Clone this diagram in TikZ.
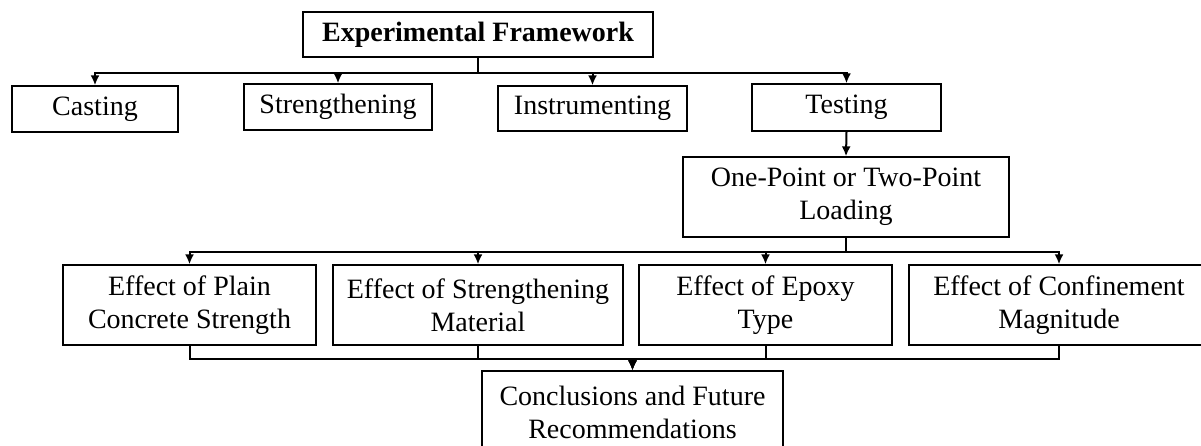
\documentclass[tikz,border=0pt]{standalone}
\usepackage{fontspec}
\setmainfont{Liberation Serif}
\usetikzlibrary{arrows.meta}

\begin{document}
\begin{tikzpicture}[x=1pt,y=-1pt,
        box/.style={draw,line width=1.3pt,align=center,inner sep=0pt,
            font=\fontsize{28}{33}\selectfont},
        link/.style={line width=2pt,-{Latex[length=10pt,width=9pt]}}]
        \useasboundingbox (0,0) rectangle (1201,445);

        \node[box,minimum width=350,minimum height=45,font=\fontsize{28}{33}\selectfont\bfseries] (frame) at (478,34.5) {Experimental Framework};

        \node[box,minimum width=166,minimum height=46] (cast)  at (95,109)    {Casting};
        \node[box,minimum width=188,minimum height=46] (stren) at (338,107)   {Strengthening};
        \node[box,minimum width=189,minimum height=45] (instr) at (592.5,108.5) {Instrumenting};
        \node[box,minimum width=189,minimum height=47] (test)  at (846.5,107.5) {Testing};

        \node[box,minimum width=326,minimum height=80] (load)  at (846,197)   {One-Point or Two-Point\\Loading};

        \node[box,minimum width=253,minimum height=80] (eff1)  at (189.5,305) {Effect of Plain\\Concrete Strength};
        \node[box,minimum width=290,minimum height=80] (eff2)  at (478,305)   {Effect of Strengthening\\Material};
        \node[box,minimum width=253,minimum height=80] (eff3)  at (765.5,305) {Effect of Epoxy\\Type};
        \node[box,minimum width=300,minimum height=80] (eff4)  at (1059,305)  {Effect of Confinement\\Magnitude};

        \node[box,minimum width=301,minimum height=82] (concl) at (632.5,412) {Conclusions and Future\\Recommendations};

        \draw[link] (frame.south) -- ++(0,15) -| (cast.north);
        \draw[link] (frame.south) -- ++(0,15) -| (stren.north);
        \draw[link] (frame.south) -- ++(0,15) -| (instr.north);
        \draw[link] (frame.south) -- ++(0,15) -| (test.north);

        \draw[link] (test.south) -- (load.north);

        \draw[link] (load.south) -- ++(0,14) -| (eff1.north);
        \draw[link] (load.south) -- ++(0,14) -| (eff2.north);
        \draw[link] (load.south) -- ++(0,14) -| (eff3.north);
        \draw[link] (load.south) -- ++(0,14) -| (eff4.north);

        \draw[link] (eff1.south) -- ++(0,13) -| (concl.north);
        \draw[link] (eff2.south) -- ++(0,13) -| (concl.north);
        \draw[link] (eff3.south) -- ++(0,13) -| (concl.north);
        \draw[link] (eff4.south) -- ++(0,13) -| (concl.north);
    \end{tikzpicture}
\end{document}
